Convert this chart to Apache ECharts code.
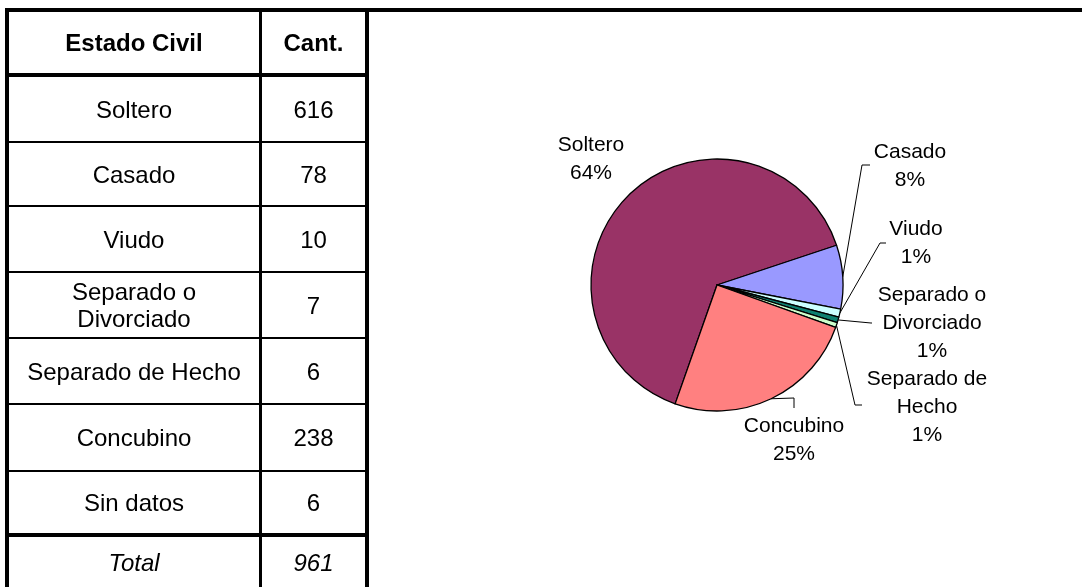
<!DOCTYPE html>
<html><head><meta charset="utf-8">
<script src="https://cdn.jsdelivr.net/npm/echarts@6/dist/echarts.min.js"></script>
<style>
html,body{margin:0;padding:0;background:#fff;width:1082px;height:587px;overflow:hidden;font-family:"Liberation Sans",Arial,sans-serif;}
#chart{position:absolute;left:0;top:0;width:1082px;height:587px;}
.ln{position:absolute;background:#000;}
.cell{position:absolute;display:flex;align-items:center;justify-content:center;text-align:center;font-size:24px;line-height:27px;color:#000;box-sizing:border-box;}
</style></head><body>
<div id="chart"></div>
<div id="table"></div>
<script>
// ---- data ----
const headers = ['Estado Civil', 'Cant.'];
const categories = ['Soltero', 'Casado', 'Viudo', 'Separado o Divorciado', 'Separado de Hecho', 'Concubino', 'Sin datos'];
const counts = [616, 78, 10, 7, 6, 238, 6];
const totalLabel = 'Total';
const totalCount = 961;
const pieCategories = ['Soltero', 'Casado', 'Viudo', 'Separado o Divorciado', 'Separado de Hecho', 'Concubino'];
const pieValues = [616, 78, 10, 7, 6, 238];
const pieLabelNames = ['Soltero', 'Casado', 'Viudo', 'Separado o\nDivorciado', 'Separado de\nHecho', 'Concubino'];

// ---- table (HTML) ----
const tbl = document.getElementById('table');
function addDiv(cls, l, t, w, h, html, extra) {
  const d = document.createElement('div');
  d.className = cls;
  d.style.left = l + 'px'; d.style.top = t + 'px';
  d.style.width = w + 'px'; d.style.height = h + 'px';
  if (html !== undefined) d.textContent = html;
  if (extra) Object.assign(d.style, extra);
  tbl.appendChild(d);
  return d;
}
// frame lines
addDiv('ln', 5, 8, 1077, 4);
addDiv('ln', 5, 8, 4, 579);
addDiv('ln', 259, 8, 3, 579);
addDiv('ln', 365, 8, 4, 579);
const hLines = [[73, 4], [141, 2], [205, 2], [271, 2], [337, 2], [403, 2], [470, 2], [533, 4]];
hLines.forEach(([y, h]) => addDiv('ln', 5, y, 364, h));
// row spans
const rowSpans = [[12, 73]];
for (let i = 0; i < hLines.length; i++) {
  const top = hLines[i][0] + hLines[i][1];
  const bottom = i + 1 < hLines.length ? hLines[i + 1][0] : 587;
  rowSpans.push([top, bottom]);
}
const col1 = [9, 259], col2 = [262, 365];
function addRow(r, a, b, extra) {
  const [t, btm] = rowSpans[r];
  addDiv('cell', col1[0], t, col1[1] - col1[0], btm - t, a, Object.assign({padding: '0 16px'}, extra || {}));
  addDiv('cell', col2[0], t, col2[1] - col2[0], btm - t, b, extra);
}
addRow(0, headers[0], headers[1], {fontWeight: 'bold'});
categories.forEach((c, i) => addRow(i + 1, c, String(counts[i])));
addRow(categories.length + 1, totalLabel, String(totalCount), {fontStyle: 'italic'});

// ---- pie (ECharts) ----
const colors = ['#993366', '#9999FF', '#CCFFFF', '#0E8070', '#CCFFCC', '#FF8080'];
const labelAnchors = [[591, 159], [910, 166], [916, 243], [932, 323], [927, 407], [794, 440]];
const leaderTails = [null, [[862, 165], [870, 165]], [[880, 243], [886, 243]], [[871, 323], [872, 323]], [[855, 405], [862, 405]], [[794, 398], [794, 408]]];

const chart = echarts.init(document.getElementById('chart'));
chart.setOption({
  animation: false,
  series: [{
    type: 'pie',
    center: [717, 285],
    radius: 126,
    startAngle: 250.6,
    clockwise: true,
    silent: true,
    avoidLabelOverlap: false,
    itemStyle: {borderColor: '#000', borderWidth: 1.3},
    label: {
      show: true,
      position: 'outer',
      color: '#000',
      fontSize: 21,
      lineHeight: 28,
      fontFamily: 'Liberation Sans',
      align: 'center',
      // percentage of all respondents (total row)
      formatter: p => pieLabelNames[p.dataIndex] + '\n' + Math.round(p.value / totalCount * 100) + '%'
    },
    labelLine: {show: true, length: 10, length2: 10, lineStyle: {color: '#000', width: 1}},
    labelLayout: function (params) {
      const i = params.dataIndex;
      const out = {x: labelAnchors[i][0], y: labelAnchors[i][1], align: 'center', verticalAlign: 'middle'};
      if (leaderTails[i] && params.labelLinePoints) {
        out.labelLinePoints = [params.labelLinePoints[0]].concat(leaderTails[i]);
      }
      return out;
    },
    data: pieCategories.map((n, i) => ({
      name: n, value: pieValues[i],
      itemStyle: {color: colors[i]},
      labelLine: {show: i !== 0}
    }))
  }]
});
</script>
</body></html>
